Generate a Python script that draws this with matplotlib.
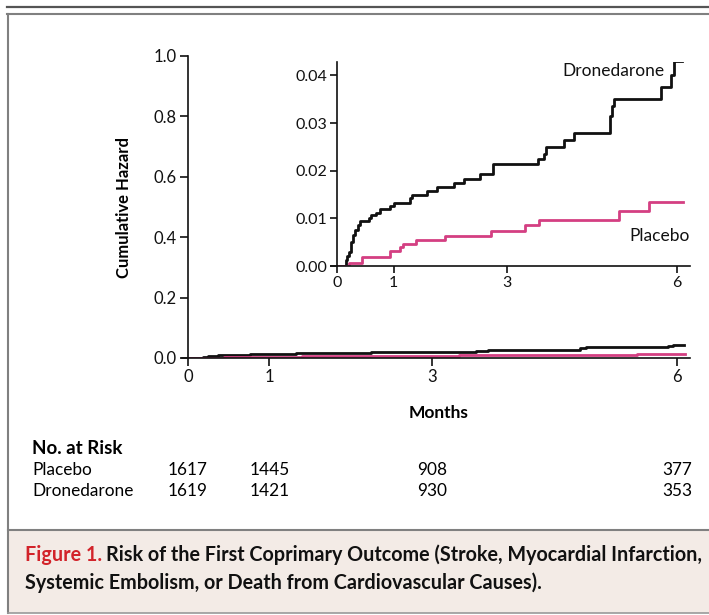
import matplotlib
matplotlib.use("Agg")
import matplotlib.pyplot as plt
from matplotlib.transforms import blended_transform_factory
from matplotlib.patches import Rectangle
from matplotlib.lines import Line2D

plt.rcParams['font.family'] = ['Lato', 'DejaVu Sans']

# ---- data ----
dro_t = [0, 0.165, 0.18, 0.22, 0.25, 0.28, 0.32, 0.37, 0.41, 0.56, 0.60, 0.69, 0.76, 0.94, 1.0,
         1.29, 1.32, 1.59, 1.76, 2.07, 2.24, 2.53, 2.76, 3.54, 3.65, 3.68, 4.01, 4.18, 4.81,
         4.85, 4.88, 5.72, 5.89, 5.95, 6.09]
dro_h = [0, 0.0012, 0.0020, 0.0029, 0.0050, 0.0064, 0.0075, 0.0087, 0.0094, 0.0100, 0.0106,
         0.0112, 0.0120, 0.0126, 0.0133, 0.0143, 0.0150, 0.0157, 0.0165, 0.0175, 0.0183,
         0.0193, 0.0213, 0.0225, 0.0235, 0.0250, 0.0265, 0.0280, 0.0315, 0.0335, 0.0350,
         0.0375, 0.0400, 0.0430, 0.0430]
pla_t = [0, 0.21, 0.44, 0.94, 1.11, 1.16, 1.40, 1.91, 2.71, 3.32, 3.57, 4.97, 5.51, 6.10]
pla_h = [0, 0.0007, 0.0018, 0.0032, 0.0040, 0.0047, 0.0055, 0.0063, 0.0073, 0.0085, 0.0097,
         0.0115, 0.0135, 0.0135]

x_ticks = [0, 1, 3, 6]
main_yticks = [0.0, 0.2, 0.4, 0.6, 0.8, 1.0]
inset_yticks = [0.00, 0.01, 0.02, 0.03, 0.04]

risk_groups = ["Placebo", "Dronedarone"]
risk_placebo = [1617, 1445, 908, 377]
risk_dronedarone = [1619, 1421, 930, 353]

BLACK = "#111111"
PINK = "#d43f82"

W, H = 709, 615
fig = plt.figure(figsize=(W / 100, H / 100), dpi=100)

def fx(px):
    return px / W

def fy(py):
    return 1 - py / H

# ---- frame ----
fig.add_artist(Line2D([fx(7), 1], [fy(6.7), fy(6.7)], color="#555555", lw=1.6))
fig.add_artist(Line2D([fx(7), 1], [fy(14.3), fy(14.3)], color="#808080", lw=1.5))
fig.add_artist(Line2D([fx(8.3), fx(8.3)], [fy(14.3), fy(613)], color="#808080", lw=1.5))
fig.add_artist(Rectangle((fx(8.3), fy(613)), 1 - fx(8.3), fy(530) - fy(613),
                         facecolor="#f3ebe6", edgecolor="none"))
fig.add_artist(Line2D([fx(8.3), 1], [fy(530), fy(530)], color="#808080", lw=1.5))
fig.add_artist(Line2D([fx(8.3), 1], [fy(613), fy(613)], color="#9a9a9a", lw=1.2))

# ---- main axes ----
ax = fig.add_axes([fx(188), fy(358), fx(690) - fx(188), fy(56) - fy(358)])
ax.step(dro_t, dro_h, where="post", color=BLACK, lw=2.0)
ax.step(pla_t, pla_h, where="post", color=PINK, lw=2.0)
ax.set_xlim(0, 6.16)
ax.set_ylim(0, 1.0)
ax.set_xticks(x_ticks)
ax.set_xticklabels([str(v) for v in x_ticks])
ax.set_yticks(main_yticks)
ax.set_yticklabels([f"{v:.1f}" for v in main_yticks])
for s in ["top", "right"]:
    ax.spines[s].set_visible(False)
for s in ["left", "bottom"]:
    ax.spines[s].set_linewidth(1.2)
    ax.spines[s].set_color(BLACK)
ax.spines["bottom"].set_bounds(-0.07, 6.16)
ax.tick_params(axis="both", direction="out", length=6, width=1.2, labelsize=12,
               colors=BLACK, pad=2)
ax.set_xlabel("Months", fontsize=12.5, fontweight="bold", labelpad=14)
ax.set_ylabel("Cumulative Hazard", fontsize=12, fontweight="bold", labelpad=16)
ax.patch.set_alpha(0)

# ---- inset ----
ins = fig.add_axes([fx(337), fy(266), fx(690) - fx(337), fy(62) - fy(266)])
ins.step(dro_t, dro_h, where="post", color=BLACK, lw=2.0)
ins.step(pla_t, pla_h, where="post", color=PINK, lw=2.0)
ins.set_xlim(0, 6.23)
ins.set_ylim(0, 0.0428)
ins.set_xticks(x_ticks)
ins.set_xticklabels([str(v) for v in x_ticks])
ins.set_yticks(inset_yticks)
ins.set_yticklabels([f"{v:.2f}" for v in inset_yticks])
for s in ["top", "right"]:
    ins.spines[s].set_visible(False)
for s in ["left", "bottom"]:
    ins.spines[s].set_linewidth(1.2)
    ins.spines[s].set_color(BLACK)
ins.spines["bottom"].set_bounds(-0.1, 6.23)
ins.tick_params(axis="both", direction="out", length=5, width=1.2, labelsize=11.5,
                colors=BLACK, pad=2)
ins.text(4.88, 0.0410, "Dronedarone", fontsize=12.5, ha="center", va="center", color=BLACK)
ins.text(5.69, 0.0063, "Placebo", fontsize=12.5, ha="center", va="center", color=BLACK)
ins.patch.set_alpha(0)

# ---- number at risk ----
tr = blended_transform_factory(ax.transData, fig.transFigure)
fig.text(fx(32), fy(448), "No. at Risk", fontsize=13.5, fontweight="bold", va="center", ha="left")
rows = [risk_placebo, risk_dronedarone]
for i, (name, vals) in enumerate(zip(risk_groups, rows)):
    yy = fy(470 + 21 * i)
    fig.text(fx(32), yy, name, fontsize=12.4, va="center", ha="left")
    for xv, n in zip(x_ticks, vals):
        fig.text(xv, yy, str(n), fontsize=12.4, va="center", ha="center", transform=tr)

# ---- caption ----
t1 = fig.text(fx(25), fy(555), "Figure 1.", fontsize=14.2, fontweight="bold",
              color="#d2232a", va="center", ha="left")
fig.canvas.draw()
bb = t1.get_window_extent()
fig.text(bb.x1 / W + fx(4), fy(555),
         "Risk of the First Coprimary Outcome (Stroke, Myocardial Infarction,",
         fontsize=14.2, fontweight="bold", color=BLACK, va="center", ha="left")
fig.text(fx(25), fy(583), "Systemic Embolism, or Death from Cardiovascular Causes).",
         fontsize=14.2, fontweight="bold", color=BLACK, va="center", ha="left")

fig.savefig("out.png", dpi=100)
